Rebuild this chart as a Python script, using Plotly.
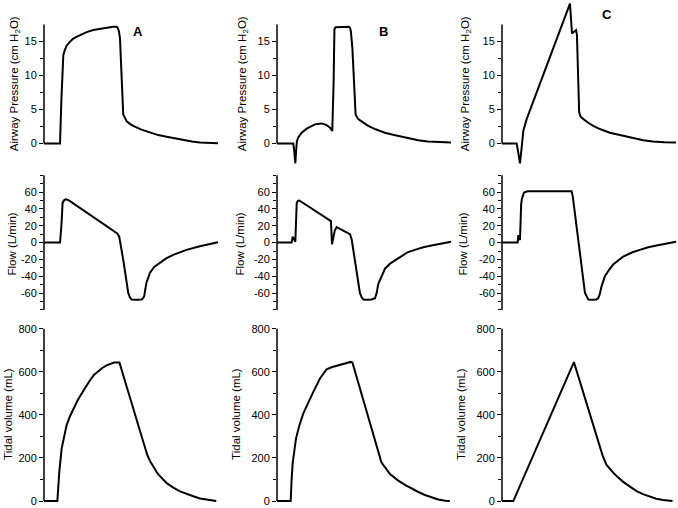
import plotly.graph_objects as go

W, H = 678, 508

# ---------------- data (time in s) ----------------
# Airway pressure (cm H2O)
t_pA = [0, 0.276, 0.30, 0.333, 0.36, 0.39, 0.45, 0.5, 0.56, 0.65, 0.735, 0.85, 0.964, 1.08, 1.194, 1.24,
        1.265, 1.29, 1.31, 1.366, 1.40, 1.424, 1.48, 1.538, 1.68, 1.825, 1.97, 2.113, 2.26, 2.40, 2.55, 2.687,
        2.85, 3.0]
pA = [0, 0, 6.5, 13.0, 13.8, 14.4, 15.0, 15.4, 15.7, 16.1, 16.4, 16.7, 16.9, 17.1, 17.2, 17.2,
      17.1, 16.6, 15.5, 4.3, 3.6, 3.3, 2.9, 2.6, 2.05, 1.6, 1.25, 1.0, 0.75, 0.5, 0.3, 0.15,
      0.08, 0.05]

t_pB = [0, 0.281, 0.296, 0.316, 0.33, 0.344, 0.367, 0.425, 0.511, 0.654, 0.769, 0.855, 0.913, 0.953,
        0.976, 0.99, 1.01, 1.15, 1.24, 1.26, 1.274, 1.30, 1.355, 1.40, 1.48, 1.573, 1.70, 1.86, 2.0,
        2.147, 2.3, 2.434, 2.6, 2.8, 3.0]
pB = [0, 0, -1.0, -2.9, -1.0, 0.4, 0.9, 1.6, 2.2, 2.83, 2.97, 2.73, 2.34, 1.85,
      9.0, 16.8, 17.1, 17.2, 17.2, 17.0, 16.5, 14.0, 4.3, 3.6, 3.1, 2.6, 2.1, 1.6, 1.3,
      1.0, 0.75, 0.5, 0.3, 0.18, 0.15]

t_pC = [0, 0.253, 0.28, 0.31, 0.34, 0.368, 0.425, 1.172, 1.207, 1.24, 1.276, 1.292, 1.33, 1.36, 1.40,
        1.48, 1.573, 1.70, 1.86, 2.0, 2.147, 2.3, 2.434, 2.6, 2.8, 3.0]
pC = [0, 0, -1.3, -2.9, -0.5, 1.9, 3.6, 20.6, 16.2, 16.4, 16.7, 16.0, 4.6, 3.9, 3.6,
      3.1, 2.6, 2.1, 1.6, 1.3, 1.0, 0.75, 0.5, 0.3, 0.18, 0.15]

# Flow (L/min)
t_fA = [0, 0.276, 0.30, 0.321, 0.35, 0.373, 0.40, 0.43, 1.263, 1.297, 1.37, 1.452, 1.48, 1.51, 1.60,
        1.682, 1.71, 1.728, 1.75, 1.768, 1.797, 1.825, 1.90, 1.998, 2.10, 2.227, 2.457, 2.687, 2.916, 3.0]
fA = [0, 0, 20, 47.5, 50.5, 51.4, 51, 50.2, 11, 7, -22, -59.6, -65, -67.5, -67.8,
      -67.5, -66, -63.5, -54, -47, -42, -36, -29, -24, -19, -14.5, -8.6, -4.3, -1.2, 0.5]

t_fB = [0, 0.253, 0.27, 0.293, 0.316, 0.34, 0.36, 0.385, 0.93, 0.948, 0.97, 0.995,
        1.028, 1.258, 1.287, 1.43, 1.46, 1.488, 1.56, 1.63, 1.69, 1.718, 1.747, 1.80, 1.862,
        1.95, 2.12, 2.25, 2.377, 2.52, 2.664, 2.83, 3.0]
fB = [0, 0, 7, 4, 1, 47, 49.5, 50, 25.5, -2, 6, 14,
      18.5, 10, 4, -60, -65, -67.5, -67.8, -67.5, -66, -60, -49, -40, -31,
      -25, -17, -11.5, -8.6, -5.5, -3.5, -1.0, 1]

t_fC = [0, 0.27, 0.282, 0.30, 0.31, 0.33, 0.343, 0.38, 0.44, 1.2, 1.22, 1.43, 1.46, 1.487, 1.56,
        1.63, 1.66, 1.687, 1.716, 1.774, 1.85, 1.917, 2.09, 2.25, 2.377, 2.52, 2.664, 2.83, 3.0]
fC = [0, 0, 9, 6, 3, 45, 52, 59.5, 61, 61, 55, -59.6, -65, -67.5, -67.8,
      -67.5, -66, -61, -52, -40, -32, -26, -16.5, -11.5, -8.6, -5.5, -3.5, -1.0, 1]

# Tidal volume (mL)
t_vA = [0, 0.23, 0.245, 0.264, 0.305, 0.35, 0.39, 0.45, 0.506, 0.58, 0.65, 0.72, 0.793, 0.86, 0.937,
        1.01, 1.08, 1.15, 1.207, 1.30, 1.78, 1.83, 1.96, 2.116, 2.23, 2.345, 2.46, 2.574, 2.69, 2.80, 2.97]
vA = [0, 0, 60, 137, 245, 305, 353, 395, 430, 468, 499, 532, 561, 585, 604,
      619, 630, 638, 643, 643, 214, 185, 127, 83, 62, 45, 32, 22, 12, 6, 0]

t_vB = [0, 0.236, 0.25, 0.27, 0.328, 0.39, 0.454, 0.54, 0.626, 0.741, 0.856, 0.94, 1.029, 1.15, 1.27,
        1.30, 1.747, 1.80, 1.948, 2.09, 2.207, 2.32, 2.437, 2.55, 2.667, 2.78, 2.9, 2.98]
vB = [0, 0, 90, 176, 291, 355, 407, 460, 507, 569, 612, 621, 627, 636, 646,
      643, 222, 180, 125, 95, 75, 57, 42, 28, 17, 7, 1, 0]

t_vC = [0, 0.195, 1.24, 1.734, 1.80, 1.86, 1.917, 2.0, 2.09, 2.2, 2.32, 2.43, 2.55, 2.66, 2.78, 2.94]
vC = [0, 0, 645, 212, 169, 148, 132, 110, 89, 68, 46, 32, 20, 11, 5, 0]

# ticks / labels
P_TICKS = [0, 5, 10, 15]
P_TICKTEXT = ["0", "5", "10", "15"]
P_MINOR = [2.5, 7.5, 12.5]
F_TICKS = [-60, -40, -20, 0, 20, 40, 60]
F_TICKTEXT = ["-60", "-40", "-20", "0", "20", "40", "60"]
F_MINOR = [-80, -70, -50, -30, -10, 10, 30, 50, 70, 80]
V_TICKS = [0, 200, 400, 600, 800]
V_TICKTEXT = ["0", "200", "400", "600", "800"]
V_MINOR = [100, 300, 500, 700]

PANEL_LETTERS = ["A", "B", "C"]
Y_TITLES = ["Airway Pressure (cm H<sub>2</sub>O)", "Flow (L/min)", "Tidal volume (mL)"]

series = [[(t_pA, pA), (t_pB, pB), (t_pC, pC)],
          [(t_fA, fA), (t_fB, fB), (t_fC, fC)],
          [(t_vA, vA), (t_vB, vB), (t_vC, vC)]]

# ---------------- layout (pixel geometry) ----------------
FONT = "Liberation Sans, Arial, sans-serif"
col_axis_px = [44, 277, 502]
x_span_px = 175
t_max = 3.0 * 175 / 174

rows = [
    dict(top=0, bottom=168, ref=(0, 143, 15, 40), ticks=(P_TICKS, P_TICKTEXT, P_MINOR), line=(0, 17.5),
         title_x=[15, 243, 466], title_y=83),
    dict(top=170, bottom=318, ref=(0, 243, 60, 192), ticks=(F_TICKS, F_TICKTEXT, F_MINOR), line=(-80, 80),
         title_x=[12, 240, 463], title_y=245),
    dict(top=326, bottom=507, ref=(0, 504, 800, 330), ticks=(V_TICKS, V_TICKTEXT, V_MINOR), line=(0, 800),
         title_x=[8, 236, 461], title_y=416),
]

fig = go.Figure()
layout = dict(width=W, height=H, margin=dict(l=0, r=0, t=0, b=0), paper_bgcolor="white",
              plot_bgcolor="white", showlegend=False, font=dict(family=FONT, color="black"))
shapes = []
annotations = []

for r, rw in enumerate(rows):
    v1, py1, v2, py2 = rw["ref"]
    s = (py1 - py2) / (v2 - v1)
    v_top = v1 + (py1 - rw["top"]) / s
    v_bot = v1 - (rw["bottom"] - py1) / s
    tv, tt, mv = rw["ticks"]
    for c in range(3):
        k = r * 3 + c + 1
        sfx = "" if k == 1 else str(k)
        t, v = series[r][c]
        fig.add_trace(go.Scatter(x=t, y=v, mode="lines", line=dict(color="black", width=2),
                                 xaxis="x" + sfx, yaxis="y" + sfx, hoverinfo="skip"))
        ax = col_axis_px[c]
        layout["xaxis" + sfx] = dict(domain=[ax / W, min(1.0, (ax + x_span_px) / W)], range=[0, t_max],
                                     visible=False, anchor="y" + sfx, fixedrange=True)
        layout["yaxis" + sfx] = dict(domain=[1 - rw["bottom"] / H, 1 - rw["top"] / H], range=[v_bot, v_top],
                                     anchor="x" + sfx, showline=False, showgrid=False, zeroline=False,
                                     fixedrange=True, ticklabeloverflow="allow",
                                     tickmode="array", tickvals=tv, ticktext=tt, ticks="outside",
                                     ticklen=4, tickwidth=1.3, tickcolor="black",
                                     tickfont=dict(size=11, family=FONT, color="black"),
                                     minor=dict(tickmode="array", tickvals=mv, ticks="outside", ticklen=3,
                                                tickwidth=1.3, tickcolor="black", showgrid=False))
        shapes.append(dict(type="line", xref="x" + sfx + " domain", x0=0, x1=0, yref="y" + sfx,
                           y0=rw["line"][0], y1=rw["line"][1], line=dict(color="black", width=1.5)))
        annotations.append(dict(text=Y_TITLES[r], textangle=-90, xref="paper", yref="paper",
                                x=rw["title_x"][c] / W, y=1 - rw["title_y"] / H, xanchor="center",
                                yanchor="middle", showarrow=False,
                                font=dict(size=11.5, family=FONT, color="black")))

letter_pos = [(138, 30), (383, 30), (607, 13)]
for L, (lx, ly) in zip(PANEL_LETTERS, letter_pos):
    annotations.append(dict(text="<b>" + L + "</b>", xref="paper", yref="paper", x=lx / W, y=1 - ly / H,
                            xanchor="center", yanchor="middle", showarrow=False,
                            font=dict(size=13, family=FONT, color="black")))

layout["shapes"] = shapes
layout["annotations"] = annotations
fig.update_layout(**layout)
fig.write_html("out.html", config={"displayModeBar": False},
               post_script="document.body.style.margin='0';document.body.style.overflow='hidden';")
